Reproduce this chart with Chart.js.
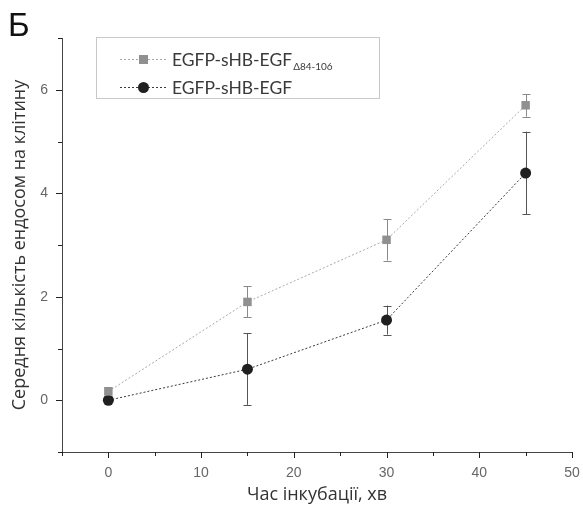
<!DOCTYPE html>
<html lang="uk">
<head>
    <meta charset="UTF-8">
    <title>Ендосоми на клітину</title>
    <script src="https://cdn.jsdelivr.net/npm/chart.js"></script>
    <style>
        body { margin: 0; background: #fff; }
        #chart-wrap { width: 583px; height: 508px; position: relative; }
    </style>
</head>
<body>
<div id="chart-wrap"><canvas id="chart_endo"></canvas></div>

<script>
// Data
const times = [0, 15, 30, 45];
const deltaMean = [0.17, 1.9, 3.1, 5.7];     // EGFP-sHB-EGF Δ84-106
const deltaErr = [0.08, 0.3, 0.4, 0.22];
const fullMean = [0, 0.6, 1.55, 4.39];       // EGFP-sHB-EGF
const fullErr = [0.04, 0.69, 0.28, 0.8];
const xLabels = [0, 10, 20, 30, 40, 50];
const yLabels = [0, 2, 4, 6];

const greyLine = '#a8a8a8', greyMark = '#909090';
const darkLine = '#3a3a3a', darkMark = '#202020';

const toPoints = (ys) => times.map((t, i) => ({ x: t, y: ys[i] }));

// Error bars, drawn under the markers
const errorBars = {
    id: 'errorBars',
    beforeDatasetsDraw(chart) {
        const { ctx, scales: { x, y } } = chart;
        const sets = [[deltaMean, deltaErr, '#8a8a8a'], [fullMean, fullErr, '#555']];
        ctx.save();
        ctx.lineWidth = 1;
        sets.forEach(([mean, err, color]) => {
            ctx.strokeStyle = color;
            times.forEach((t, i) => {
                const px = Math.round(x.getPixelForValue(t)) + 0.5;
                const top = y.getPixelForValue(mean[i] + err[i]);
                const bot = y.getPixelForValue(mean[i] - err[i]);
                ctx.beginPath();
                ctx.moveTo(px, top); ctx.lineTo(px, bot);
                ctx.moveTo(px - 4, Math.round(top) + 0.5); ctx.lineTo(px + 4, Math.round(top) + 0.5);
                ctx.moveTo(px - 4, Math.round(bot) + 0.5); ctx.lineTo(px + 4, Math.round(bot) + 0.5);
                ctx.stroke();
            });
        });
        ctx.restore();
    }
};

// Tick marks, axis titles, panel letter and legend
const decorations = {
    id: 'decorations',
    afterDraw(chart) {
        const { ctx, chartArea: a, scales: { x, y } } = chart;
        ctx.save();
        ctx.strokeStyle = '#222';
        ctx.lineWidth = 1;
        ctx.beginPath();
        for (let v = -1; v <= 7; v++) {
            const py = Math.round(y.getPixelForValue(v)) + 0.5;
            const len = v % 2 === 0 ? 6 : 4;
            ctx.moveTo(a.left - len, py); ctx.lineTo(a.left, py);
        }
        for (let v = -5; v <= 50; v += 5) {
            const px = Math.round(x.getPixelForValue(v)) + 0.5;
            const len = v % 10 === 0 ? 6 : 4;
            ctx.moveTo(px, a.bottom); ctx.lineTo(px, a.bottom + len);
        }
        ctx.stroke();

        // axis titles
        ctx.fillStyle = '#333';
        ctx.textAlign = 'center';
        ctx.textBaseline = 'middle';
        ctx.font = '18px "Open Sans"';
        ctx.fillText('Час інкубації, хв', (a.left + a.right) / 2, 495);
        ctx.save();
        ctx.translate(20, (a.top + a.bottom) / 2);
        ctx.rotate(-Math.PI / 2);
        ctx.font = '18px "Open Sans"';
        ctx.fillText('Середня кількість ендосом на клітину', 0, 0);
        ctx.restore();

        // panel letter
        ctx.textAlign = 'left';
        ctx.textBaseline = 'alphabetic';
        ctx.fillStyle = '#111';
        ctx.font = '33px "Liberation Sans"';
        ctx.fillText('Б', 8, 36);

        // legend
        ctx.strokeStyle = '#c8c8c8';
        ctx.strokeRect(96.5, 37.5, 283, 61);
        const rows = [
            { y: 59, line: greyLine, mark: greyMark, shape: 'square', text: 'EGFP-sHB-EGF', sub: 'Δ84-106' },
            { y: 87, line: darkLine, mark: darkMark, shape: 'circle', text: 'EGFP-sHB-EGF', sub: '' }
        ];
        rows.forEach(r => {
            ctx.strokeStyle = r.line;
            ctx.setLineDash([2, 2]);
            ctx.beginPath();
            ctx.moveTo(120, r.y + 0.5); ctx.lineTo(168, r.y + 0.5);
            ctx.stroke();
            ctx.setLineDash([]);
            ctx.fillStyle = r.mark;
            if (r.shape === 'square') {
                ctx.fillRect(139, r.y - 4, 9, 9);
            } else {
                ctx.beginPath();
                ctx.arc(143.5, r.y + 0.5, 5.5, 0, Math.PI * 2);
                ctx.fill();
            }
            ctx.fillStyle = '#3a3a3a';
            ctx.font = '17.5px Lato';
            ctx.textBaseline = 'middle';
            ctx.fillText(r.text, 172, r.y + 1);
            if (r.sub) {
                const w = ctx.measureText(r.text).width;
                ctx.font = '10px Lato';
                ctx.fillText(r.sub, 172 + w + 1, r.y + 8);
            }
        });
        ctx.restore();
    }
};

const tickFont = { family: '"Liberation Sans", Arial, sans-serif', size: 14 };

new Chart(document.getElementById('chart_endo').getContext('2d'), {
    type: 'line',
    data: {
        datasets: [
            {
                label: 'EGFP-sHB-EGF Δ84-106',
                data: toPoints(deltaMean),
                borderColor: greyLine, borderWidth: 1, borderDash: [2, 2],
                pointStyle: 'rect', pointRadius: 6, pointBorderWidth: 0,
                pointBackgroundColor: greyMark, fill: false, tension: 0
            },
            {
                label: 'EGFP-sHB-EGF',
                data: toPoints(fullMean),
                borderColor: darkLine, borderWidth: 1, borderDash: [2, 2],
                pointStyle: 'circle', pointRadius: 5.5, pointBorderWidth: 0,
                pointBackgroundColor: darkMark, fill: false, tension: 0
            }
        ]
    },
    options: {
        responsive: true,
        maintainAspectRatio: false,
        animation: false,
        layout: { padding: { left: 0, right: 11, top: 38, bottom: 0 } },
        plugins: { legend: { display: false }, tooltip: { enabled: false } },
        scales: {
            x: {
                type: 'linear', min: -5, max: 50,
                afterFit: (s) => { s.height = 56; s.paddingRight = 0; s.paddingLeft = 0; },
                afterBuildTicks: (s) => { s.ticks = xLabels.map(v => ({ value: v })); },
                grid: { drawOnChartArea: false, drawTicks: true, tickLength: 5, tickColor: 'rgba(0,0,0,0)' },
                border: { color: '#444', width: 1 },
                ticks: { font: tickFont, color: '#666', padding: 8, maxRotation: 0 }
            },
            y: {
                min: -1, max: 7,
                afterFit: (s) => { s.width = 62; s.paddingTop = 0; s.paddingBottom = 0; },
                afterBuildTicks: (s) => { s.ticks = yLabels.map(v => ({ value: v })); },
                grid: { drawOnChartArea: false, drawTicks: true, tickLength: 5, tickColor: 'rgba(0,0,0,0)' },
                border: { color: '#444', width: 1 },
                ticks: { font: tickFont, color: '#666', padding: 9 }
            }
        }
    },
    plugins: [errorBars, decorations]
});
</script>
</body>
</html>
